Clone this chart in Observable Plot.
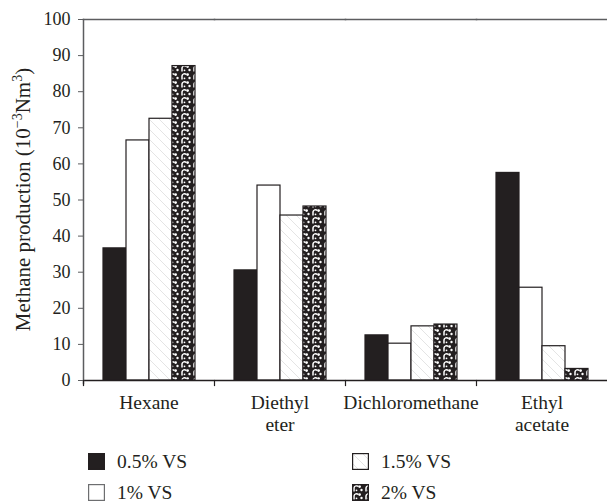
<!DOCTYPE html>
<html>
<head>
<meta charset="utf-8">
<script src="https://cdn.jsdelivr.net/npm/d3@7"></script>
<script src="https://cdn.jsdelivr.net/npm/@observablehq/plot@0.6"></script>
<style>
  body { margin: 0; background: #fff; }
  #wrap { position: relative; width: 607px; height: 504px; overflow: hidden; font-family: 'Liberation Serif', serif; color: #231f20; }
  #wrap svg text { font-family: 'Liberation Serif', serif; }
  #defs { position: absolute; width: 0; height: 0; }
  .leg { position: absolute; display: flex; align-items: center; font-size: 19.5px; line-height: 17px; white-space: nowrap; }
  .leg svg { margin-right: 12px; }
</style>
</head>
<body>
<div id="wrap">
<svg id="defs" width="0" height="0">
  <defs>
    <pattern id="hatch" patternUnits="userSpaceOnUse" width="10" height="10">
      <rect width="10" height="10" fill="#ffffff"></rect>
      <path d="M0,0 L10,10 M-1,9 L1,11 M9,-1 L11,1" stroke="#d9d9d9" stroke-width="0.7"></path>
    </pattern>
    <pattern id="dots" patternUnits="userSpaceOnUse" width="12" height="8">
      <rect width="12" height="8" fill="#231f20"></rect>
      <path d="M2,7.5 L2,3.8 A2.4,2.4 0 0 1 6.2,2.6" stroke="#ffffff" stroke-width="1.5" fill="none"></path>
      <circle cx="7.6" cy="2.6" r="1.4" fill="#ffffff"></circle>
      <circle cx="9.5" cy="6" r="1.2" fill="#ffffff"></circle>
      <circle cx="4.5" cy="6.3" r="0.9" fill="#ffffff"></circle>
    </pattern>
  </defs>
</svg>
</div>
<script>
// ---- data ----
const categories = ["Hexane", "Diethyl\neter", "Dichloromethane", "Ethyl\nacetate"];
const series = ["0.5% VS", "1% VS", "1.5% VS", "2% VS"];
const v05 = [36.6, 30.5, 12.5, 57.5];
const v1  = [66.5, 54.0, 10.2, 25.7];
const v15 = [72.5, 45.7, 15.0, 9.5];
const v2  = [87.1, 48.2, 15.5, 3.2];
const yTicks = [0, 10, 20, 30, 40, 50, 60, 70, 80, 90, 100];
const fills = ["#231f20", "#ffffff", "url(#hatch)", "url(#dots)"];

const seriesValues = [v05, v1, v15, v2];
const data = [];
categories.forEach((c, i) => {
  series.forEach((s, j) => data.push({category: c, series: s, value: seriesValues[j][i]}));
});

const ink = "#231f20";
const axisGray = "#5c5d5f";

const chart = Plot.plot({
  width: 607,
  height: 440,
  marginLeft: 83,
  marginRight: 0,
  marginTop: 19,
  marginBottom: 60,
  style: {fontFamily: "'Liberation Serif', serif", color: ink, background: "#fff"},
  fx: {domain: categories, padding: 0, label: null},
  x: {domain: series, paddingInner: 0, paddingOuter: 0.73, axis: null},
  y: {domain: [0, 100], label: null},
  color: {domain: series, range: fills, type: "ordinal"},
  marks: [
    Plot.barY(data, {fx: "category", x: "series", y: "value", fill: "series", stroke: ink, strokeWidth: 1.2}),
    Plot.frame({anchor: "top", stroke: axisGray, strokeWidth: 1.5}),
    Plot.ruleY([0], {stroke: ink, strokeWidth: 1.5}),
    Plot.frame({anchor: "left", facetAnchor: "left", stroke: axisGray, strokeWidth: 1.5, insetBottom: -3}),
    Plot.frame({anchor: "left", stroke: ink, strokeWidth: 1.2, insetTop: 361, insetBottom: -5}),
    Plot.axisY(yTicks, {anchor: "left", tickSize: 5, tickPadding: 8, fontSize: 18, stroke: axisGray, label: null, tickFormat: d => String(d)}),
    Plot.axisFx({anchor: "bottom", tickSize: 0, tickPadding: 13, fontSize: 19.5, lineHeight: 1.12, label: null})
  ]
});

document.getElementById("wrap").appendChild(chart);

// y-axis title with superscripts
const ys = chart.scale("y");
const yMid = (ys.range[0] + ys.range[1]) / 2;
const t = d3.select(chart).append("text")
  .attr("transform", `translate(30,${yMid}) rotate(-90)`)
  .attr("text-anchor", "middle")
  .attr("font-size", 21)
  .attr("fill", ink);
t.append("tspan").text("Methane production (10");
t.append("tspan").attr("font-size", 14).attr("dy", -8).text("\u22123");
t.append("tspan").attr("dy", 8).text("Nm");
t.append("tspan").attr("font-size", 14).attr("dy", -8).text("3");
t.append("tspan").attr("dy", 8).text(")");

// legend
const legendPos = [
  {left: 88, top: 453},
  {left: 88, top: 484},
  {left: 352, top: 453},
  {left: 352, top: 484}
];
series.forEach((s, i) => {
  const div = document.createElement("div");
  div.className = "leg";
  div.style.left = legendPos[i].left + "px";
  div.style.top = legendPos[i].top + "px";
  div.innerHTML = `<svg width="17" height="17"><rect x="0.6" y="0.6" width="15.8" height="15.8" fill="${fills[i]}" stroke="${i === 1 ? '#6d6e70' : ink}" stroke-width="1.2"></rect></svg><span>${s}</span>`;
  document.getElementById("wrap").appendChild(div);
});
</script>
</body>
</html>
